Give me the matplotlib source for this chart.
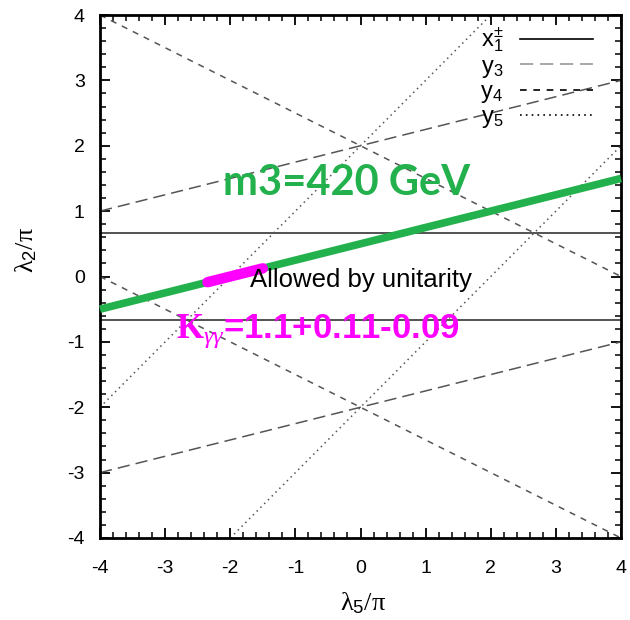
import matplotlib
matplotlib.use("Agg")
import matplotlib.pyplot as plt
from matplotlib.lines import Line2D
from matplotlib.ticker import MultipleLocator

plt.rcParams["font.family"] = ["Liberation Sans", "DejaVu Sans"]
plt.rcParams["axes.unicode_minus"] = False
plt.rcParams["mathtext.fontset"] = "custom"
plt.rcParams["mathtext.rm"] = "Liberation Sans"
plt.rcParams["mathtext.it"] = "Liberation Serif:italic"
plt.rcParams["mathtext.bf"] = "Liberation Serif:bold"

# --- datos: extremos de cada recta (x, y) ---
x1_levels = [2 / 3, -2 / 3]                     # x1± : rectas horizontales
y3_x = [[-4, 4], [-4, 4]]
y3_y = [[1, 3], [-3, -1]]
y4_x = [[-4, 4], [-4, 4]]
y4_y = [[4, 0], [0, -4]]
y5_x = [[-4, 2], [-2, 4]]
y5_y = [[-2, 4], [-4, 2]]
green_x = [-4, 4]
green_y = [-0.5, 1.5]
magenta_x = [-2.35, -1.5]
magenta_y = [-0.0875, 0.125]

ticks = [-4, -3, -2, -1, 0, 1, 2, 3, 4]
legend_labels = [r"x$_\mathrm{1}^{\pm}$", r"y$_\mathrm{3}$", r"y$_\mathrm{4}$", r"y$_\mathrm{5}$"]

fig = plt.figure(figsize=(6.3, 6.2), dpi=100)
ax = fig.add_axes([100 / 630, 82 / 620, 521 / 630, 523 / 620])

for lv in x1_levels:
    ax.axhline(lv, color="#444444", lw=1.3)
for xs, ys in zip(y3_x, y3_y):
    ax.plot(xs, ys, color="#555555", lw=1.1, dashes=(8, 4))
for xs, ys in zip(y4_x, y4_y):
    ax.plot(xs, ys, color="#555555", lw=1.1, dashes=(4, 4))
for xs, ys in zip(y5_x, y5_y):
    ax.plot(xs, ys, color="#555555", lw=1.1, dashes=(1, 2.5))

ax.plot(green_x, green_y, color="#22b14c", lw=5.5, solid_capstyle="butt", clip_on=False, zorder=5)
ax.plot(magenta_x, magenta_y, color="#ff00ff", lw=7.5, solid_capstyle="round", zorder=6)

ax.text(-2.11, 1.25, "m3=420 GeV", color="#22b14c", fontsize=30, fontweight="bold",
        family="Lato", ha="left", va="baseline", zorder=7)
ax.text(-1.69, -0.16, "Allowed by unitarity", color="black", fontsize=18.5,
        ha="left", va="baseline", zorder=7)
ax.text(-2.83, -0.94, r"$\mathbf{K}_{\gamma\gamma}$=1.1+0.11-0.09", color="#ff00ff",
        fontsize=25, fontweight="bold", ha="left", va="baseline", zorder=7)

handles = [
    Line2D([], [], color="black", lw=1.2),
    Line2D([], [], color="#999999", lw=1.2, dashes=(8, 4)),
    Line2D([], [], color="black", lw=1.2, dashes=(4, 4)),
    Line2D([], [], color="black", lw=1.2, dashes=(1, 2.5)),
]
ax.legend(handles, legend_labels, loc="upper right", bbox_to_anchor=(0.946, 0.98),
          frameon=False, markerfirst=False, fontsize=17, handlelength=3.1,
          handletextpad=0.7, labelspacing=0.05, borderaxespad=0, borderpad=0)

ax.set_xlim(-4, 4)
ax.set_ylim(-4, 4)
ax.set_xticks(ticks)
ax.set_yticks(ticks)
ax.xaxis.set_minor_locator(MultipleLocator(0.2))
ax.yaxis.set_minor_locator(MultipleLocator(0.2))
ax.tick_params(which="both", direction="in", top=True, right=True, labelsize=14)
ax.tick_params(which="major", length=7, width=1.3)
ax.tick_params(which="minor", length=4, width=1.1)
ax.tick_params(axis="x", pad=16)
ax.tick_params(axis="y", pad=11)
for sp in ax.spines.values():
    sp.set_linewidth(2)

ax.set_xlabel(r"λ$_\mathrm{5}$/π", family="Liberation Serif", fontsize=19)
ax.set_ylabel(r"λ$_\mathrm{2}$/π", family="Liberation Serif", fontsize=19)
ax.xaxis.set_label_coords(0.505, -0.1)
ax.yaxis.set_label_coords(-0.118, 0.55)

fig.savefig("out.png", dpi=100)
